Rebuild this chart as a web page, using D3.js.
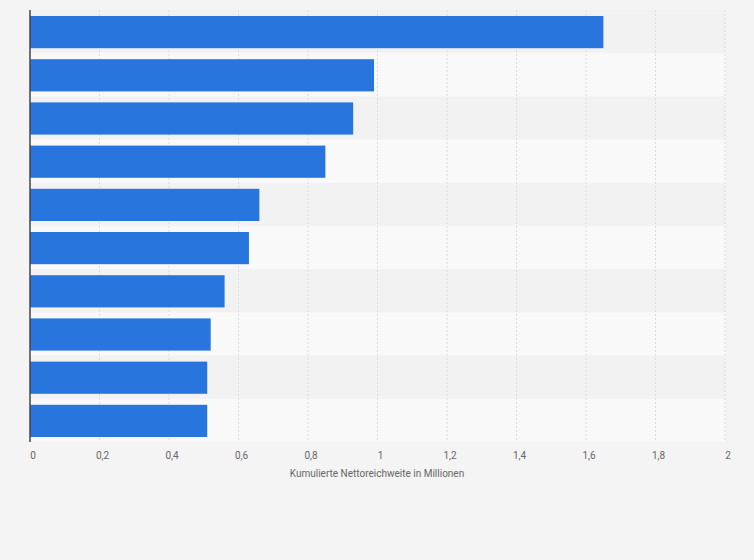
<!DOCTYPE html>
<html><head><meta charset="utf-8">
<script src="https://cdn.jsdelivr.net/npm/d3@7"></script>
<style>body{margin:0;background:#f4f4f4;}</style>
</head><body><div id="chart"></div>
<script>
var categories = ["A","B","C","D","E","F","G","H","I","J"];
var values = [1.65, 0.99, 0.93, 0.85, 0.66, 0.63, 0.56, 0.52, 0.51, 0.51];
var ticks = [0, 0.2, 0.4, 0.6, 0.8, 1, 1.2, 1.4, 1.6, 1.8, 2];

var width = 754, height = 560;
var svg = d3.select('#chart').append('svg')
    .attr('width', width).attr('height', height)
    .style('font-family', 'Roboto, Arial, sans-serif');

var x = d3.scaleLinear().domain([0, 2]).range([30, 725]);
var y = d3.scaleBand().domain(categories).range([10, 442]);

svg.selectAll('rect.band')
  .data(categories).enter().append('rect')
  .attr('x', x(0)).attr('width', x(2) - x(0))
  .attr('y', function(d) { return y(d); })
  .attr('height', y.bandwidth())
  .attr('fill', function(d, i) { return i % 2 ? '#f9f9f9' : '#f2f2f2'; });

svg.selectAll('line.grid')
  .data(ticks.slice(1)).enter().append('line')
  .attr('x1', x).attr('x2', x)
  .attr('y1', 10).attr('y2', 442)
  .style('stroke', '#dcdcdc')
  .style('stroke-dasharray', '2,2');

var pad = 6;
svg.selectAll('rect.bar')
  .data(values).enter().append('rect')
  .attr('x', x(0))
  .attr('y', function(d, i) { return y(categories[i]) + pad; })
  .attr('height', y.bandwidth() - 2 * pad + 1)
  .attr('width', function(d) { return x(d) - x(0); })
  .attr('fill', '#2876dd');

svg.append('line')
  .attr('x1', x(0)).attr('x2', x(0)).attr('y1', 10).attr('y2', 442)
  .style('stroke', '#444').style('stroke-width', 1.5);

svg.selectAll('text.tick')
  .data(ticks).enter().append('text')
  .attr('x', function(d) { return x(d) + 3; })
  .attr('y', 459)
  .attr('text-anchor', 'middle')
  .attr('font-size', 10).attr('fill', '#666')
  .text(function(d) { return String(d).replace('.', ','); });

svg.append('text')
  .attr('x', 377).attr('y', 477)
  .attr('text-anchor', 'middle')
  .attr('font-size', 10).attr('fill', '#666')
  .text('Kumulierte Nettoreichweite in Millionen');
</script></body></html>
